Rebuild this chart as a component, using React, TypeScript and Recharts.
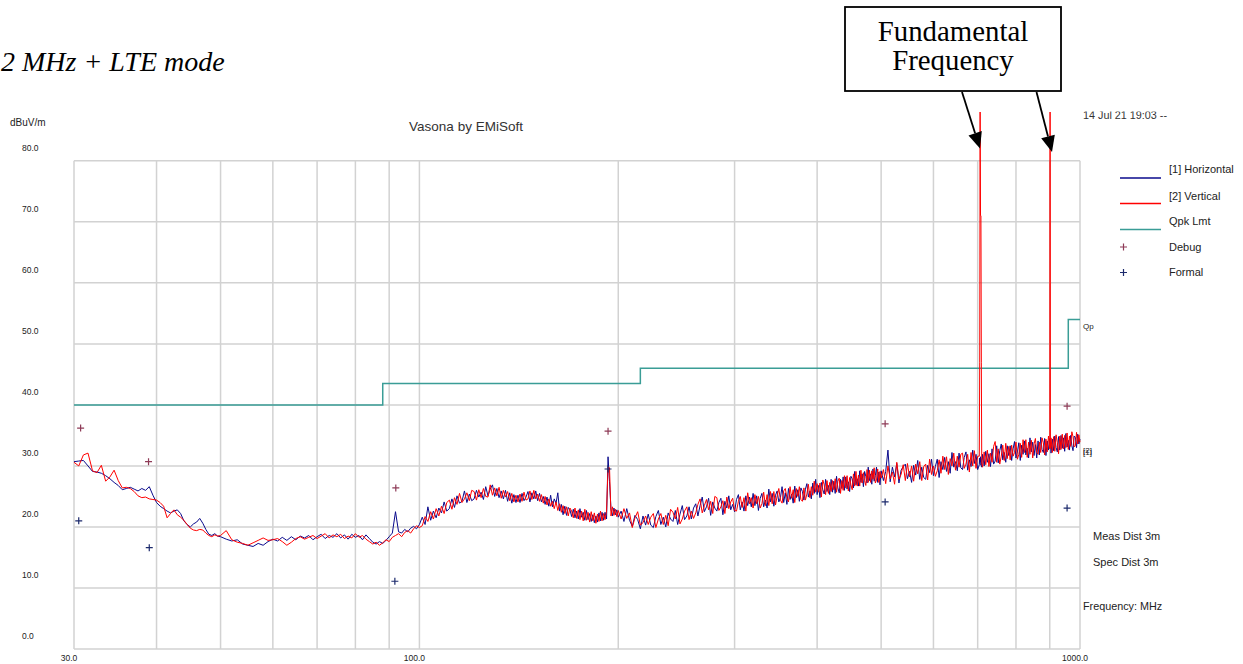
import React from 'react';
import { ComposedChart, Line, Scatter, XAxis, YAxis, ReferenceLine } from 'recharts';

// ---- Sweep data (MHz / dBuV/m), split by sweep band ----
// 30–50 MHz
const FREQ_A = [
  30, 30.5, 31, 31.5, 32, 32.5, 33, 33.5, 34, 34.5,
  35, 35.5, 36, 36.5, 37, 37.5, 38, 38.5, 39, 39.5,
  40, 40.5, 41, 41.5, 42, 42.5, 43, 43.5, 44, 44.5,
  45, 45.5, 46, 46.5, 47, 47.5, 48, 48.5, 49, 49.5,
  50,
];
const HORIZ_A = [
  30.7, 30.8, 30.9, 30.0, 29.1, 29.0, 28.8, 28.4, 27.9, 27.3,
  26.8, 26.1, 26.3, 26.5, 26.2, 25.9, 26.3, 26.0, 26.6, 25.2,
  24.0, 23.4, 23.0, 22.6, 22.3, 22.6, 22.8, 22.2, 21.0, 20.4,
  20.0, 20.5, 20.8, 21.4, 20.6, 19.6, 18.8, 18.6, 18.9, 18.5,
  18.4,
];
const VERT_A = [
  30.6, 30.0, 31.8, 32.1, 29.2, 28.9, 30.1, 27.5, 28.2, 29.3,
  27.6, 26.4, 26.5, 26.3, 25.8, 25.1, 24.8, 24.9, 24.6, 24.5,
  24.4, 24.0, 23.4, 21.5, 22.2, 22.8, 22.0, 21.6, 21.1, 20.4,
  19.8, 19.5, 19.4, 19.6, 19.5, 19.0, 18.6, 18.4, 18.7, 18.5,
  18.6,
];

// 51–100 MHz
const FREQ_B = [
  51, 52, 53, 54, 55, 56, 57, 58, 59, 60,
  61, 62, 63, 64, 65, 66, 67, 68, 69, 70,
  71, 72, 73, 74, 75, 76, 77, 78, 79, 80,
  81, 82, 83, 84, 85, 86, 87, 88, 89, 90,
  91, 92, 93, 94, 95, 96, 97, 98, 99, 100,
];
const HORIZ_B = [
  18.0, 17.7, 17.9, 17.2, 17.0, 16.8, 17.3, 17.0, 17.6, 18.0,
  17.7, 18.3, 17.8, 18.4, 17.9, 18.5, 18.2, 18.6, 17.9, 18.4,
  18.8, 18.1, 18.6, 18.3, 18.9, 18.2, 18.7, 18.0, 18.8, 18.3,
  18.6, 17.9, 18.7, 18.1, 17.5, 17.2, 17.6, 17.3, 17.8, 18.4,
  19.0, 22.5, 19.2, 19.0, 19.6, 19.2, 19.8, 20.1, 19.7, 20.4,
];
const VERT_B = [
  19.4, 17.9, 17.5, 17.3, 17.0, 17.4, 17.8, 18.2, 17.8, 17.9,
  18.1, 17.6, 17.0, 17.5, 18.1, 18.4, 18.0, 18.3, 18.6, 18.1,
  18.5, 18.9, 18.2, 18.7, 18.4, 18.8, 18.1, 18.5, 18.2, 18.9,
  18.3, 18.6, 18.0, 17.6, 17.2, 17.5, 17.0, 17.4, 17.9, 17.6,
  18.3, 18.6, 18.9, 18.4, 19.1, 19.4, 19.0, 19.7, 20.2, 19.9,
];

// 101–200 MHz
const FREQ_C = [
  101, 102, 103, 104, 105, 106, 107, 108, 109, 110,
  111, 112, 113, 114, 115, 116, 117, 118, 119, 120,
  121, 122, 123, 124, 125, 126, 127, 128, 129, 130,
  131, 132, 133, 134, 135, 136, 137, 138, 139, 140,
  141, 142, 143, 144, 145, 146, 147, 148, 149, 150,
  151, 152, 153, 154, 155, 156, 157, 158, 159, 160,
  161, 162, 163, 164, 165, 166, 167, 168, 169, 170,
  171, 172, 173, 174, 175, 176, 177, 178, 179, 180,
  181, 182, 183, 184, 185, 186, 187, 188, 189, 190,
  191, 192, 193, 194, 195, 196, 197, 198, 199, 200,
];
const HORIZ_C = [
  21.6, 20.4, 23.3, 21.1, 22.6, 21.5, 23.1, 22.3, 24.1, 22.6,
  23.0, 24.6, 23.2, 25.1, 23.9, 24.2, 25.9, 24.0, 25.4, 24.3,
  24.6, 26.0, 24.9, 25.7, 24.5, 26.6, 25.1, 26.2, 26.9, 25.0,
  26.3, 24.8, 25.9, 24.6, 26.0, 24.2, 25.6, 23.9, 25.3, 24.0,
  25.2, 24.0, 25.5, 24.3, 24.9, 25.8, 24.1, 25.6, 24.6, 25.9,
  24.3, 25.5, 24.1, 25.0, 23.7, 24.9, 23.4, 25.2, 23.3, 24.6,
  23.9, 25.6, 22.6, 23.7, 22.0, 23.4, 21.9, 23.2, 22.8, 21.7,
  22.9, 21.5, 22.6, 21.3, 23.0, 21.6, 22.4, 21.1, 22.7, 21.2,
  22.2, 20.9, 22.0, 20.7, 21.8, 20.8, 22.3, 21.0, 22.4, 21.1,
  22.4, 21.3, 31.5, 27.4, 22.9, 21.8, 23.1, 22.0, 22.8, 21.6,
];
const VERT_C = [
  20.2, 21.7, 20.9, 22.5, 21.3, 23.0, 21.8, 23.4, 22.2, 24.0,
  24.4, 22.9, 24.8, 23.7, 25.5, 24.0, 24.6, 25.6, 24.3, 26.0,
  25.8, 24.4, 26.1, 24.8, 26.3, 25.0, 24.9, 26.9, 25.2, 26.4,
  25.1, 26.5, 24.7, 26.0, 24.9, 25.8, 24.3, 25.5, 24.1, 25.2,
  24.1, 25.4, 24.2, 25.7, 24.4, 24.6, 25.9, 24.5, 26.0, 24.6,
  25.4, 24.2, 25.3, 23.9, 25.0, 23.6, 24.6, 23.4, 24.2, 23.0,
  24.1, 22.7, 23.8, 22.4, 23.5, 22.2, 23.3, 21.8, 23.1, 22.6,
  21.5, 23.1, 21.4, 22.8, 21.2, 22.6, 21.0, 22.9, 21.1, 22.4,
  20.8, 22.5, 21.0, 22.3, 20.6, 22.1, 20.9, 22.6, 21.0, 22.2,
  21.2, 22.6, 29.7, 29.7, 21.8, 23.3, 21.9, 22.9, 21.7, 22.7,
];

// 202–500 MHz
const FREQ_D = [
  202, 204, 206, 208, 210, 212, 214, 216, 218, 220,
  222, 224, 226, 228, 230, 232, 234, 236, 238, 240,
  242, 244, 246, 248, 250, 252, 254, 256, 258, 260,
  262, 264, 266, 268, 270, 272, 274, 276, 278, 280,
  282, 284, 286, 288, 290, 292, 294, 296, 298, 300,
  302, 304, 306, 308, 310, 312, 314, 316, 318, 320,
  322, 324, 326, 328, 330, 332, 334, 336, 338, 340,
  342, 344, 346, 348, 350, 352, 354, 356, 358, 360,
  362, 364, 366, 368, 370, 372, 374, 376, 378, 380,
  382, 384, 386, 388, 390, 392, 394, 396, 398, 400,
  402, 404, 406, 408, 410, 412, 414, 416, 418, 420,
  422, 424, 426, 428, 430, 432, 434, 436, 438, 440,
  442, 444, 446, 448, 450, 452, 454, 456, 458, 460,
  462, 464, 466, 468, 470, 472, 474, 476, 478, 480,
  482, 484, 486, 488, 490, 492, 494, 496, 498, 500,
];
const HORIZ_D = [
  22.6, 20.9, 23.0, 21.1, 20.1, 21.9, 21.2, 19.7, 21.8, 20.3,
  22.1, 20.3, 19.9, 21.7, 22.7, 20.4, 21.6, 20.0, 22.3, 21.3,
  20.9, 22.7, 20.4, 22.1, 23.5, 21.2, 21.8, 23.3, 21.3, 23.1,
  23.8, 21.8, 23.5, 24.9, 22.5, 23.3, 24.7, 21.9, 24.1, 23.1,
  22.6, 24.0, 24.7, 22.0, 24.2, 23.1, 25.1, 22.8, 23.7, 22.5,
  24.5, 25.3, 22.8, 24.1, 22.6, 25.1, 23.5, 24.9, 23.3, 25.5,
  23.5, 25.1, 22.7, 24.7, 25.5, 23.3, 24.4, 23.1, 26.2, 24.1,
  25.5, 23.4, 25.2, 25.9, 24.1, 24.8, 26.6, 24.0, 25.6, 23.7,
  26.3, 24.5, 25.4, 23.9, 26.7, 24.8, 26.1, 24.2, 26.4, 25.8,
  24.4, 26.2, 27.1, 24.9, 25.9, 24.6, 27.2, 25.5, 27.8, 25.3,
  26.8, 24.8, 27.3, 26.1, 25.4, 27.8, 25.8, 26.8, 25.3, 27.8,
  25.7, 27.5, 25.5, 28.3, 26.4, 25.6, 27.8, 26.3, 28.2, 26.0,
  28.2, 26.2, 27.4, 25.8, 28.3, 27.9, 26.4, 29.1, 26.9, 27.9,
  26.7, 29.2, 27.3, 28.7, 26.6, 29.1, 28.3, 27.2, 29.8, 27.6,
  28.7, 27.0, 29.5, 27.5, 28.4, 29.8, 27.3, 29.0, 26.9, 29.2,
];
const VERT_D = [
  21.3, 23.0, 21.4, 22.3, 19.9, 21.5, 22.5, 20.3, 20.7, 21.8,
  20.4, 21.6, 22.2, 19.9, 21.3, 22.2, 20.4, 21.9, 20.2, 22.9,
  22.4, 21.3, 23.2, 20.5, 21.3, 22.6, 23.3, 21.2, 22.6, 21.4,
  22.3, 23.7, 24.6, 22.3, 23.5, 24.5, 22.8, 24.2, 22.2, 25.0,
  24.8, 22.7, 23.3, 24.3, 22.2, 24.9, 23.0, 24.1, 24.7, 22.7,
  22.6, 24.2, 25.0, 23.2, 24.8, 22.6, 25.6, 23.8, 24.8, 23.1,
  25.3, 23.8, 25.0, 23.1, 23.8, 25.7, 23.5, 25.3, 23.5, 25.8,
  23.8, 25.8, 23.6, 25.1, 26.3, 24.4, 23.9, 25.9, 26.3, 24.8,
  24.1, 26.6, 24.7, 26.1, 24.0, 26.3, 25.0, 26.6, 24.5, 24.2,
  26.4, 24.4, 25.4, 27.0, 24.8, 26.6, 25.2, 27.5, 25.7, 27.1,
  25.7, 27.2, 24.9, 27.7, 26.9, 25.3, 27.6, 25.5, 27.3, 25.8,
  27.6, 26.1, 27.9, 25.7, 27.5, 28.0, 25.5, 27.6, 26.0, 28.4,
  26.4, 28.4, 25.9, 28.1, 26.9, 26.1, 28.7, 26.7, 29.1, 26.7,
  28.5, 26.7, 29.3, 27.2, 28.9, 27.6, 26.8, 29.4, 27.3, 29.3,
  27.3, 29.2, 27.8, 29.7, 27.2, 27.7, 29.5, 27.3, 29.1, 28.0,
];

// 504–1000 MHz (carriers near 706 MHz and 901 MHz)
const FREQ_E = [
  504, 508, 512, 516, 520, 524, 528, 532, 536, 540,
  544, 548, 552, 556, 560, 564, 568, 572, 576, 580,
  584, 588, 592, 596, 600, 604, 608, 612, 616, 620,
  624, 628, 632, 636, 640, 644, 648, 652, 656, 660,
  664, 668, 672, 676, 680, 684, 688, 692, 696, 700,
  704, 705, 706, 707, 708, 709, 710, 712, 716, 720, 724, 728, 732, 736, 740,
  744, 748, 752, 756, 760, 764, 768, 772, 776, 780,
  784, 788, 792, 796, 800, 804, 808, 812, 816, 820,
  824, 828, 832, 836, 840, 844, 848, 852, 856, 860,
  864, 868, 872, 876, 880, 884, 888, 892, 896, 900,
  901, 902, 904, 908, 912, 916, 920, 924, 928, 932, 936, 940,
  944, 948, 952, 956, 960, 964, 968, 972, 976, 980,
  984, 988, 992, 996, 1000,
];
const HORIZ_E = [
  27.6, 29.1, 32.6, 27.4, 29.8, 28.2, 30.4, 27.2, 29.3, 29.9,
  30.3, 27.9, 29.1, 27.3, 30.1, 28.5, 30.9, 27.8, 29.8, 28.1,
  27.8, 30.1, 28.9, 31.1, 28.4, 29.9, 31.1, 28.1, 30.7, 29.4,
  31.4, 29.1, 30.7, 28.8, 32.2, 29.8, 30.7, 29.2, 32.1, 29.7,
  29.4, 31.4, 32.3, 29.3, 31.0, 29.9, 32.6, 30.4, 31.9, 29.4,
  30.2, 31.3, 30.6, 31.5, 30.1, 31.2, 29.8, 31.9, 30.0, 32.4, 30.6, 32.0, 29.9, 32.8, 30.3,
  30.8, 33.3, 30.5, 32.5, 33.6, 31.0, 32.2, 30.6, 33.3, 31.7,
  33.3, 30.9, 32.8, 34.0, 31.3, 32.3, 33.8, 30.9, 33.4, 31.9,
  34.1, 31.8, 32.9, 31.3, 34.6, 32.3, 33.9, 31.7, 33.5, 31.3,
  34.1, 31.8, 34.7, 32.7, 32.2, 34.5, 31.7, 34.1, 32.6, 34.5,
  33.0, 33.9, 32.1, 34.4, 32.5, 34.9, 33.0, 32.3, 34.8, 32.6, 35.0, 32.9,
  34.6, 32.4, 35.3, 33.1, 34.2, 32.6, 35.0, 33.3, 32.5, 34.9,
  34.7, 33.0, 35.2, 33.6, 34.4,
];
const VERT_E = [
  29.4, 27.1, 30.0, 27.9, 29.0, 27.0, 30.6, 27.8, 28.6, 30.2,
  27.6, 30.4, 28.2, 30.0, 27.5, 30.3, 28.7, 30.7, 27.6, 29.9,
  30.3, 27.7, 31.1, 28.6, 30.0, 28.3, 29.2, 31.0, 28.8, 31.6,
  29.4, 31.5, 28.6, 31.2, 30.0, 32.1, 29.3, 31.6, 29.8, 31.9,
  32.1, 29.6, 30.3, 31.9, 29.0, 32.2, 30.0, 32.5, 29.6, 31.6,
  31.6, 47.0, 88.0, 71.0, 71.0, 47.0, 30.4, 29.8, 32.3, 30.2, 32.6, 29.9, 32.1, 30.6, 33.2,
  34.0, 30.6, 32.8, 30.3, 31.6, 33.4, 30.9, 33.7, 31.2, 33.2,
  31.0, 33.4, 31.6, 32.2, 33.9, 31.1, 31.9, 33.7, 31.4, 34.3,
  32.2, 34.3, 31.4, 33.9, 31.9, 34.2, 31.3, 33.6, 34.5, 32.2,
  31.9, 33.9, 32.2, 34.6, 33.8, 31.8, 34.4, 32.3, 34.9, 32.8,
  88.0, 32.9, 34.6, 32.2, 34.8, 32.4, 35.1, 33.8, 32.0, 34.9, 32.7, 35.2,
  32.8, 35.0, 33.0, 35.4, 32.7, 34.9, 33.2, 35.6, 34.8, 33.1,
  33.3, 35.5, 33.6, 35.1, 33.9,
];

const FREQ_MHZ = [...FREQ_A, ...FREQ_B, ...FREQ_C, ...FREQ_D, ...FREQ_E];
const HORIZ_DBUV = [...HORIZ_A, ...HORIZ_B, ...HORIZ_C, ...HORIZ_D, ...HORIZ_E];
const VERT_DBUV = [...VERT_A, ...VERT_B, ...VERT_C, ...VERT_D, ...VERT_E];

// Quasi-peak limit (3 m)
const LIMIT_FREQ = [30, 88, 216, 960, 1000];
const LIMIT_DBUV = [40, 43.5, 46, 54, 54];

// Marker points
const DEBUG_FREQ = [30.7, 38.9, 92.1, 193, 507, 956];
const DEBUG_DBUV = [36.2, 30.7, 26.4, 35.7, 36.9, 39.8];
const FORMAL_FREQ = [30.5, 39, 91.8, 193, 507, 956];
const FORMAL_DBUV = [21.0, 16.6, 11.1, 29.5, 24.1, 23.1];

// Axes and grid
const Y_TICKS = [0, 10, 20, 30, 40, 50, 60, 70, 80];
const X_TICKS = [30, 100, 1000];
const GRID_FREQ = [30, 40, 50, 60, 70, 80, 90, 100, 200, 300, 400, 500, 600, 700, 800, 900, 1000];

const toPoints = (fs: number[], vs: number[]) => fs.map((f, i) => ({ f, db: vs[i] }));

const horizData = toPoints(FREQ_MHZ, HORIZ_DBUV);
const vertData = toPoints(FREQ_MHZ, VERT_DBUV);
const limitData = toPoints(LIMIT_FREQ, LIMIT_DBUV);
const debugData = toPoints(DEBUG_FREQ, DEBUG_DBUV);
const formalData = toPoints(FORMAL_FREQ, FORMAL_DBUV);

const SANS = "'Liberation Sans', Arial, sans-serif";
const SERIF = "'Liberation Serif', 'Times New Roman', serif";

const NAVY = '#0a0a8c';
const RED = '#ff0000';
const TEAL = '#3a9d96';
const GRID = '#d2d2d2';
const DEBUG_C = '#8e3b57';
const FORMAL_C = '#1c2a6c';

const XTick = (props: any) => {
  const { x, payload } = props;
  return (
    <text x={x - 5} y={660.5} textAnchor="middle" fontFamily={SANS} fontSize={8.5} fill="#222">
      {Number(payload.value).toFixed(1)}
    </text>
  );
};

const YTick = (props: any) => {
  const { y, payload } = props;
  return (
    <text x={22} y={y - 10} textAnchor="start" fontFamily={SANS} fontSize={8.5} fill="#222">
      {Number(payload.value).toFixed(1)}
    </text>
  );
};

const plusShape = (color: string) => (props: any) => {
  const { cx, cy } = props;
  return (
    <path
      d={`M${cx - 3.5},${cy}H${cx + 3.5}M${cx},${cy - 3.5}V${cy + 3.5}`}
      stroke={color}
      strokeWidth={1.2}
      fill="none"
    />
  );
};

const Overlay = () => (
  <svg
    width={1243}
    height={664}
    style={{ position: 'absolute', left: 0, top: 0, pointerEvents: 'none' }}
  >
    <defs>
      <clipPath id="dateClip">
        <rect x={1075} y={111.5} width={130} height={20} />
      </clipPath>
    </defs>

    <text x={1} y={71} fontFamily={SERIF} fontStyle="italic" fontSize={28} fill="#000">
      2 MHz + LTE mode
    </text>

    <rect x={845} y={7} width={216} height={84} fill="#fff" stroke="#000" strokeWidth={1.8} />
    <text x={953} y={41} textAnchor="middle" fontFamily={SERIF} fontSize={28.8} fill="#000">
      Fundamental
    </text>
    <text x={953} y={70} textAnchor="middle" fontFamily={SERIF} fontSize={28.8} fill="#000">
      Frequency
    </text>
    <line x1={962} y1={92} x2={975.1} y2={133.3} stroke="#000" strokeWidth={1.8} />
    <polygon points="980,148.5 981.8,131.1 968.5,135.4" fill="#000" />
    <line x1={1036.5} y1={92} x2={1048} y2={136.5} stroke="#000" strokeWidth={1.8} />
    <polygon points="1052,152 1054.8,134.8 1041.2,138.3" fill="#000" />

    <text x={466} y={131} textAnchor="middle" fontFamily={SANS} fontSize={13.5} fill="#333">
      Vasona by EMiSoft
    </text>
    <text x={10} y={125.5} fontFamily={SANS} fontSize={10} fill="#222">
      dBuV/m
    </text>
    <text x={1083} y={118.5} fontFamily={SANS} fontSize={10.8} fill="#333" clipPath="url(#dateClip)">
      14 Jul 21 19:03 --
    </text>

    {/* legend */}
    <line x1={1120} y1={178} x2={1161} y2={178} stroke={NAVY} strokeWidth={1.5} />
    <text x={1169} y={173.2} fontFamily={SANS} fontSize={11} fill="#222">[1] Horizontal</text>
    <line x1={1120} y1={203.5} x2={1161} y2={203.5} stroke={RED} strokeWidth={1.5} />
    <text x={1169} y={199.6} fontFamily={SANS} fontSize={11} fill="#222">[2] Vertical</text>
    <line x1={1120} y1={229.5} x2={1161} y2={229.5} stroke={TEAL} strokeWidth={1.5} />
    <text x={1169} y={224.6} fontFamily={SANS} fontSize={11} fill="#222">Qpk Lmt</text>
    <path d="M1120,247H1127M1123.5,243.5V250.5" stroke={DEBUG_C} strokeWidth={1.2} />
    <text x={1169} y={250.5} fontFamily={SANS} fontSize={11} fill="#222">Debug</text>
    <path d="M1120,272.5H1127M1123.5,269V276" stroke={FORMAL_C} strokeWidth={1.2} />
    <text x={1169} y={275.6} fontFamily={SANS} fontSize={11} fill="#222">Formal</text>

    {/* right-hand annotations */}
    <text x={1083} y={329} fontFamily={SANS} fontSize={8} fill="#222">Qp</text>
    <text x={1083} y={455} fontFamily={SANS} fontSize={8} fill="#222">[1]</text>
    <text x={1083} y={453} fontFamily={SANS} fontSize={8} fill="#222">[2]</text>
    <text x={1093} y={540} fontFamily={SANS} fontSize={11} fill="#222">Meas Dist 3m</text>
    <text x={1093} y={566} fontFamily={SANS} fontSize={11} fill="#222">Spec Dist 3m</text>
    <text x={1083} y={610} fontFamily={SANS} fontSize={10.8} fill="#222">Frequency: MHz</text>
  </svg>
);

export default function App() {
  return (
    <div style={{ position: 'absolute', left: 0, top: 0, width: 1243, height: 664, background: '#fff' }}>
      <ComposedChart width={1243} height={664} margin={{ top: 112, right: 163, bottom: 0, left: 14 }}>
        {Y_TICKS.map((v) => (
          <ReferenceLine
            key={`h${v}`}
            segment={[{ x: 30, y: v }, { x: 1000, y: v }]}
            stroke={GRID}
            strokeWidth={1.5}
            ifOverflow="visible"
          />
        ))}
        {GRID_FREQ.map((f) => (
          <ReferenceLine
            key={`v${f}`}
            segment={[{ x: f, y: 0 }, { x: f, y: 80 }]}
            stroke={GRID}
            strokeWidth={1.5}
            ifOverflow="visible"
          />
        ))}
        <XAxis
          dataKey="f"
          type="number"
          scale="log"
          domain={[30, 1000]}
          ticks={X_TICKS}
          interval={0}
          height={15}
          axisLine={false}
          tickLine={false}
          tick={<XTick />}
        />
        <YAxis
          dataKey="db"
          type="number"
          domain={[0, 88]}
          ticks={Y_TICKS}
          interval={0}
          width={60}
          axisLine={false}
          tickLine={false}
          tick={<YTick />}
        />
        <Line
          data={limitData}
          dataKey="db"
          type="stepAfter"
          stroke={TEAL}
          strokeWidth={1.5}
          dot={false}
          isAnimationActive={false}
        />
        <Line
          data={horizData}
          dataKey="db"
          type="linear"
          stroke={NAVY}
          strokeWidth={1}
          dot={false}
          isAnimationActive={false}
        />
        <Line
          data={vertData}
          dataKey="db"
          type="linear"
          stroke={RED}
          strokeWidth={1}
          dot={false}
          isAnimationActive={false}
        />
        <Scatter data={debugData} dataKey="db" shape={plusShape(DEBUG_C)} isAnimationActive={false} />
        <Scatter data={formalData} dataKey="db" shape={plusShape(FORMAL_C)} isAnimationActive={false} />
      </ComposedChart>
      <Overlay />
    </div>
  );
}
